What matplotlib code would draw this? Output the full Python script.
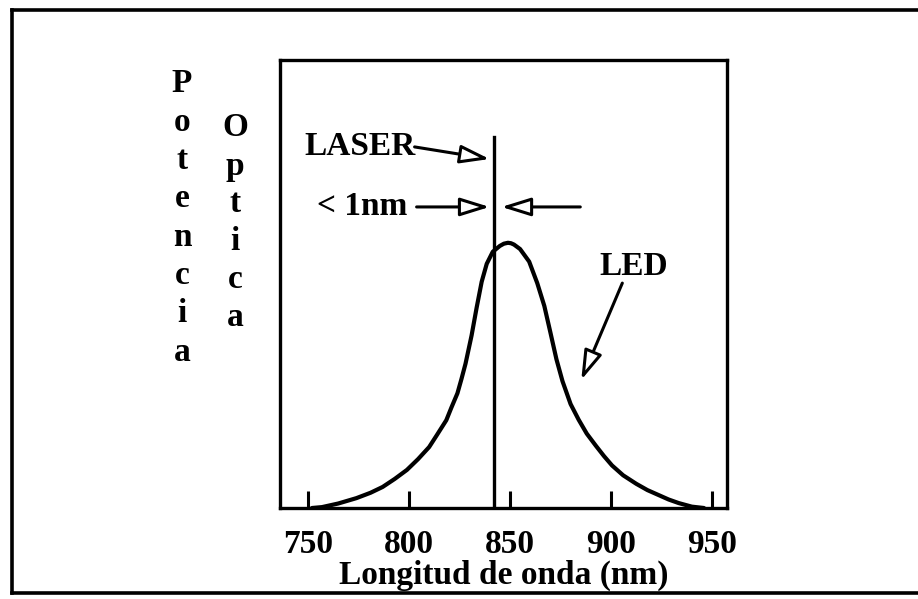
import numpy as np
import matplotlib
matplotlib.use('Agg')
import matplotlib.pyplot as plt
from matplotlib.lines import Line2D

# LED spectrum (nm, relative optical power)
led_nm = [752, 757, 765, 774, 781, 787, 793, 799, 804.5, 810, 814, 818.5, 821, 824,
          826, 828, 831, 833.5, 836, 838.5, 841.5, 845, 847, 849, 850.5, 852, 855,
          859.5, 863.5, 867, 870, 873, 876, 880, 884, 888, 892.5, 896.5, 900.5, 906,
          912.5, 918, 924, 928.5, 933.5, 940, 946]
led_pow = [0.0, 0.002, 0.010, 0.022, 0.034, 0.047, 0.065, 0.085, 0.109, 0.136,
           0.164, 0.196, 0.224, 0.256, 0.288, 0.322, 0.385, 0.447, 0.505, 0.545,
           0.572, 0.585, 0.590, 0.592, 0.591, 0.588, 0.578, 0.550, 0.502, 0.451,
           0.392, 0.332, 0.283, 0.232, 0.197, 0.166, 0.139, 0.116, 0.095, 0.073,
           0.054, 0.040, 0.028, 0.019, 0.011, 0.003, 0.0]

laser_nm = 842
laser_top = 0.828

xticks = [750, 800, 850, 900, 950]
xlabel = 'Longitud de onda (nm)'
ylabel1 = 'Potencia'
ylabel2 = 'Optica'

W, H = 918, 599
serif = 'Liberation Serif'

fig = plt.figure(figsize=(W/100, H/100), dpi=100)
fig.patch.set_facecolor('white')

# scanned page frame (open on the right)
fx = lambda px: px / W
fy = lambda py: 1 - py / H
for xs, ys in [([12, 12], [10, 593]), ([12, 918], [10, 10]), ([12, 918], [593, 593])]:
    fig.add_artist(Line2D([fx(v) for v in xs], [fy(v) for v in ys], color='black', lw=2.6))

ax = fig.add_axes([280/W, 1 - 508/H, (727-280)/W, (508-60)/H])
ax.plot(led_nm, led_pow, color='black', lw=3, solid_capstyle='round', solid_joinstyle='round')
ax.plot([laser_nm, laser_nm], [0, laser_top], color='black', lw=2.4)

ax.set_xlim(736.2, 957.4)
ax.set_ylim(0, 1)
ax.set_xticks(xticks)
ax.set_xticklabels([str(t) for t in xticks], fontsize=24, fontfamily=serif, fontweight='bold')
ax.set_yticks([])
ax.tick_params(axis='x', direction='in', length=12, width=2.2, pad=15)
for s in ax.spines.values():
    s.set_linewidth(2.4)
ax.set_xlabel(xlabel, fontsize=24, fontfamily=serif, fontweight='bold', labelpad=0)

txt = dict(fontsize=24, fontfamily=serif, fontweight='bold', va='center')
hollow = dict(arrowstyle='-|>,head_length=0.9,head_width=0.28', fc='white', ec='black',
              lw=2.2, mutation_scale=20, shrinkA=0, shrinkB=0)

ax.text(748.5, 0.806, 'LASER', ha='left', **txt)
ax.annotate('', xy=(839.9, 0.779), xytext=(802.8, 0.806), arrowprops=hollow)

ax.text(754.4, 0.672, '< 1nm', ha='left', **txt)
ax.annotate('', xy=(839.9, 0.672), xytext=(803.8, 0.672), arrowprops=hollow)
ax.annotate('', xy=(845.8, 0.672), xytext=(884.8, 0.672), arrowprops=hollow)

ax.text(894.2, 0.538, 'LED', ha='left', **txt)
ax.annotate('', xy=(885.3, 0.286), xytext=(905.6, 0.502), arrowprops=hollow)

# stacked vertical y label, one letter per line
for i, ch in enumerate(ylabel1):
    fig.text(fx(182), fy(84 + i*38.3), ch, ha='center', **txt)
for i, ch in enumerate(ylabel2):
    fig.text(fx(235), fy(128 + i*38), ch, ha='center', **txt)

fig.savefig('out.png', dpi=100, facecolor='white')
